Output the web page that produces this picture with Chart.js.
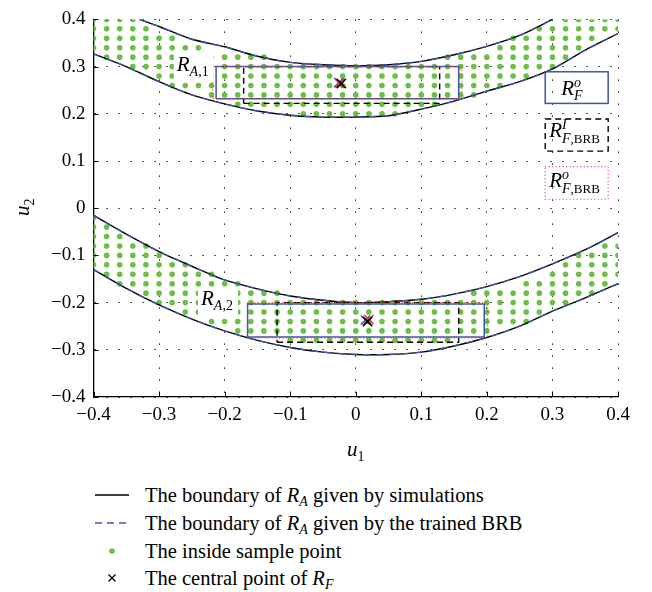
<!DOCTYPE html>
<html>
<head>
<meta charset="utf-8">
<script src="https://cdn.jsdelivr.net/npm/chart.js@4.4.0/dist/chart.umd.min.js"></script>
<style>
  body { margin: 0; background: #fff; }
  #wrap { position: relative; width: 652px; height: 592px; }
  #legend { position: absolute; left: 0; top: 0; font-family: 'Liberation Serif', 'DejaVu Serif', serif; font-size: 20.5px; color: #000; }
  .row { position: absolute; left: 0; width: 652px; height: 28px; }
  .row svg { position: absolute; left: 90px; top: 0; }
  .txt { position: absolute; left: 145px; top: 0; line-height: 28px; white-space: nowrap; }
  .txt sub { font-size: 14px; vertical-align: -4px; }
</style>
</head>
<body>
<div id="wrap">
  <canvas id="chart" width="652" height="470"></canvas>
  <div id="legend">
    <div class="row" style="top:481px">
      <svg width="44" height="28"><line x1="5" y1="14" x2="39" y2="14" stroke="#000" stroke-width="1.3"/></svg>
      <div class="txt">The boundary of <i>R</i><sub><i>A</i></sub> given by simulations</div>
    </div>
    <div class="row" style="top:509px">
      <svg width="44" height="28"><line x1="5" y1="14" x2="39" y2="14" stroke="#3b57a6" stroke-width="1.3" stroke-dasharray="7,5"/></svg>
      <div class="txt">The boundary of <i>R</i><sub><i>A</i></sub> given by the trained BRB</div>
    </div>
    <div class="row" style="top:537px">
      <svg width="44" height="28"><circle cx="22" cy="14" r="2.8" fill="#6cbe45"/></svg>
      <div class="txt">The inside sample point</div>
    </div>
    <div class="row" style="top:564px">
      <svg width="44" height="28"><path d="M18.5 10.5 L25.5 17.5 M25.5 10.5 L18.5 17.5" stroke="#000" stroke-width="1.3"/></svg>
      <div class="txt">The central point of <i>R</i><sub><i>F</i></sub></div>
    </div>
  </div>
</div>
<script>
// axis ticks
const u1Ticks = [-0.4, -0.3, -0.2, -0.1, 0, 0.1, 0.2, 0.3, 0.4];
const u2Ticks = [-0.4, -0.3, -0.2, -0.1, 0, 0.1, 0.2, 0.3, 0.4];
const tickLabels = ['\u22120.4', '\u22120.3', '\u22120.2', '\u22120.1', '0', '0.1', '0.2', '0.3', '0.4'];

// boundaries of R_A
const curveU1 = [-0.40, -0.35, -0.30, -0.25, -0.20, -0.15, -0.10, -0.05, 0.00, 0.05, 0.10, 0.15, 0.20, 0.25, 0.30, 0.35, 0.40];
const topLower = [0.327, 0.300, 0.268, 0.240, 0.221, 0.206, 0.197, 0.193, 0.193, 0.196, 0.210, 0.227, 0.248, 0.268, 0.295, 0.335, 0.370];
const topUpperU1 = [-0.33, -0.30, -0.25, -0.20, -0.15, -0.10, -0.05, 0.00, 0.05, 0.10, 0.15, 0.20, 0.25, 0.30];
const topUpper = [0.400, 0.385, 0.358, 0.342, 0.322, 0.309, 0.304, 0.302, 0.304, 0.311, 0.325, 0.343, 0.366, 0.400];
const bottomUpper = [-0.015, -0.055, -0.092, -0.123, -0.152, -0.171, -0.186, -0.195, -0.200, -0.198, -0.193, -0.182, -0.166, -0.145, -0.118, -0.088, -0.052];
const bottomLower = [-0.130, -0.170, -0.205, -0.235, -0.260, -0.280, -0.295, -0.305, -0.310, -0.310, -0.305, -0.292, -0.274, -0.250, -0.218, -0.190, -0.160];

// inside sample points: each row is u2 and spans of u1 (first, last), dots every 0.02
const sampleStep = 0.02;
const sampleRows = [
  [0.40, [[-0.40, -0.34], [0.32, 0.40]]],
  [0.38, [[-0.40, -0.32], [0.28, 0.40]]],
  [0.36, [[-0.40, -0.28], [0.24, 0.36]]],
  [0.34, [[-0.40, -0.24], [0.22, 0.34]]],
  [0.32, [[-0.38, -0.14], [0.14, 0.32]]],
  [0.30, [[-0.34, 0.30]]],
  [0.28, [[-0.30, 0.26]]],
  [0.26, [[-0.28, 0.22]]],
  [0.24, [[-0.22, 0.18]]],
  [0.22, [[-0.18, 0.12]]],
  [0.20, [[-0.08, 0.06]]],
  [-0.02, [[-0.40, -0.40]]],
  [-0.04, [[-0.40, -0.38]]],
  [-0.06, [[-0.40, -0.36]]],
  [-0.08, [[-0.40, -0.32], [0.38, 0.40]]],
  [-0.10, [[-0.40, -0.30], [0.34, 0.40]]],
  [-0.12, [[-0.40, -0.26], [0.32, 0.40]]],
  [-0.14, [[-0.38, -0.22], [0.30, 0.40]]],
  [-0.16, [[-0.36, -0.18], [0.26, 0.38]]],
  [-0.18, [[-0.32, -0.12], [0.18, 0.36]]],
  [-0.20, [[-0.30, 0.32]]],
  [-0.22, [[-0.26, 0.28]]],
  [-0.24, [[-0.22, 0.26]]],
  [-0.26, [[-0.18, 0.20]]],
  [-0.28, [[-0.10, 0.14]]],
];

// rectangles [u1 min, u1 max, u2 min, u2 max]
const topRectO = [-0.213, 0.157, 0.232, 0.300];
const topRectBrbO = [-0.218, 0.162, 0.232, 0.300];
const topRectBrbI = [-0.171, 0.128, 0.222, 0.300];
const bottomRectO = [-0.165, 0.196, -0.273, -0.203];
const bottomRectBrbO = [-0.165, 0.201, -0.275, -0.200];
const bottomRectBrbI = [-0.120, 0.157, -0.284, -0.200];

// central points of R_F
const centerSim = [[-0.022, 0.264], [0.018, -0.240]];
const centerO = [[-0.026, 0.266], [0.015, -0.237]];
const centerBrb = [[-0.024, 0.265], [0.020, -0.236]];

// key boxes at the right [u1 min, u1 max, u2 min, u2 max]
const keyBoxO = [0.289, 0.385, 0.222, 0.289];
const keyBoxBrbI = [0.289, 0.385, 0.121, 0.189];
const keyBoxBrbO = [0.289, 0.385, 0.019, 0.088];

const GREEN = '#6cbe45';
const BLUE = '#3b57a6';
const RED = '#e83a3a';
const SERIF = '"Liberation Serif", "DejaVu Serif", serif';

const samplePoints = [];
sampleRows.forEach(([u2, spans]) => {
  spans.forEach(([a, b]) => {
    const n = Math.round((b - a) / sampleStep);
    for (let k = 0; k <= n; k++) samplePoints.push({ x: a + k * sampleStep, y: u2 });
  });
});

const toXY = (xs, ys) => xs.map((x, i) => ({ x, y: ys[i] }));
const rectPath = (r) => [
  { x: r[0], y: r[2] }, { x: r[1], y: r[2] }, { x: r[1], y: r[3] }, { x: r[0], y: r[3] }, { x: r[0], y: r[2] },
];

function curve(data, color, dash, order) {
  return {
    data, showLine: true, pointRadius: 0, borderColor: color, borderWidth: 1.4,
    borderDash: dash, tension: 0.25, fill: false, order,
  };
}
function rect(r, color, dash, width) {
  return {
    data: rectPath(r), showLine: true, pointRadius: 0, borderColor: color, borderWidth: width,
    borderDash: dash, tension: 0, fill: false, order: 3,
  };
}
function cross(pts, color) {
  return {
    data: pts.map(([x, y]) => ({ x, y })), showLine: false, pointStyle: 'crossRot',
    pointRadius: 6.5, borderColor: color, borderWidth: 1.6, order: 1,
  };
}

function mathText(ctx, x, y, parts) {
  let cx = x;
  parts.forEach((p) => {
    ctx.font = `${p.i ? 'italic ' : ''}${p.s}px ${SERIF}`;
    const px = p.at !== undefined ? p.at : cx;
    ctx.fillText(p.t, px, y + (p.dy || 0));
    const w = ctx.measureText(p.t).width;
    if (!p.keep) cx = px + w;
  });
}

const overlay = {
  id: 'overlay',
  afterDatasetsDraw(chart) {
    const { ctx, scales: { x, y } } = chart;
    ctx.save();
    ctx.fillStyle = '#000';
    ctx.textBaseline = 'alphabetic';
    // region labels with white backing
    const lab = (u1, u2, sub) => {
      const px = x.getPixelForValue(u1), py = y.getPixelForValue(u2);
      ctx.fillStyle = '#fff';
      ctx.fillRect(px - 3, py - 17, 40, 27);
      ctx.fillStyle = '#000';
      mathText(ctx, px, py, [
        { t: 'R', s: 21, i: true },
        { t: 'A', s: 14, i: true, dy: 5 },
        { t: sub, s: 14, dy: 5 },
      ]);
    };
    lab(-0.273, 0.291, ',1');
    lab(-0.236, -0.206, ',2');

    // key boxes
    const box = (r, color, dash, w) => {
      const x0 = x.getPixelForValue(r[0]), x1 = x.getPixelForValue(r[1]);
      const y0 = y.getPixelForValue(r[3]), y1 = y.getPixelForValue(r[2]);
      ctx.save();
      ctx.strokeStyle = color; ctx.lineWidth = w; ctx.setLineDash(dash);
      ctx.strokeRect(x0, y0, x1 - x0, y1 - y0);
      ctx.restore();
      return [x0, y0];
    };
    let p = box(keyBoxO, BLUE, [], 1.5);
    mathText(ctx, p[0] + 16, p[1] + 23, [
      { t: 'R', s: 21, i: true },
      { t: 'o', s: 14, i: true, dy: -8, keep: true },
      { t: 'F', s: 14, i: true, dy: 5 },
    ]);
    p = box(keyBoxBrbI, '#000', [6, 4], 1.4);
    mathText(ctx, p[0] + 4, p[1] + 18, [
      { t: 'R', s: 21, i: true },
      { t: 'I', s: 14, i: true, dy: -8, keep: true },
      { t: 'F', s: 14, i: true, dy: 6 },
      { t: ',BRB', s: 13, dy: 6 },
    ]);
    p = box(keyBoxBrbO, RED, [1, 2.5], 1.2);
    mathText(ctx, p[0] + 4, p[1] + 20, [
      { t: 'R', s: 21, i: true },
      { t: 'o', s: 14, i: true, dy: -8, keep: true },
      { t: 'F', s: 14, i: true, dy: 6 },
      { t: ',BRB', s: 13, dy: 6 },
    ]);
    ctx.restore();
  },
  afterDraw(chart) {
    const { ctx, chartArea: a, scales: { x, y } } = chart;
    ctx.save();
    // inward tick marks
    ctx.strokeStyle = '#000'; ctx.lineWidth = 1;
    ctx.beginPath();
    u1Ticks.forEach((v) => { const px = Math.round(x.getPixelForValue(v)) + 0.5; ctx.moveTo(px, a.bottom); ctx.lineTo(px, a.bottom - 5); });
    u2Ticks.forEach((v) => { const py = Math.round(y.getPixelForValue(v)) + 0.5; ctx.moveTo(a.left, py); ctx.lineTo(a.left + 5, py); });
    ctx.stroke();
    // axis titles
    ctx.fillStyle = '#000';
    mathText(ctx, 347, 456, [{ t: 'u', s: 21, i: true }, { t: '1', s: 14, dy: 5 }]);
    ctx.translate(29, 216);
    ctx.rotate(-Math.PI / 2);
    mathText(ctx, 0, 0, [{ t: 'u', s: 21, i: true }, { t: '2', s: 14, dy: 5 }]);
    ctx.restore();
  },
};

const tickFont = { family: SERIF, size: 19 };

new Chart(document.getElementById('chart'), {
  type: 'scatter',
  data: {
    datasets: [
      {
        data: samplePoints, pointRadius: 2.8, pointHoverRadius: 2.8,
        backgroundColor: GREEN, borderWidth: 0, order: 10,
      },
      curve(toXY(topUpperU1, topUpper), '#000', [], 6),
      curve(toXY(curveU1, topLower), '#000', [], 6),
      curve(toXY(curveU1, bottomUpper), '#000', [], 6),
      curve(toXY(curveU1, bottomLower), '#000', [], 6),
      curve(toXY(topUpperU1, topUpper), BLUE, [7, 6], 5),
      curve(toXY(curveU1, topLower), BLUE, [7, 6], 5),
      curve(toXY(curveU1, bottomUpper), BLUE, [7, 6], 5),
      curve(toXY(curveU1, bottomLower), BLUE, [7, 6], 5),
      rect(topRectBrbO, RED, [1, 2.5], 1.2),
      rect(bottomRectBrbO, RED, [1, 2.5], 1.2),
      rect(topRectO, BLUE, [], 1.5),
      rect(bottomRectO, BLUE, [], 1.5),
      rect(topRectBrbI, '#000', [6, 4], 1.4),
      rect(bottomRectBrbI, '#000', [6, 4], 1.4),
      cross(centerSim, '#000'),
      cross(centerBrb, RED),
      cross(centerO, BLUE),
    ],
  },
  options: {
    responsive: false,
    animation: false,
    devicePixelRatio: 1,
    layout: { padding: { top: 14, right: 34, bottom: 0, left: 0 } },
    plugins: { legend: { display: false }, tooltip: { enabled: false } },
    scales: {
      x: {
        type: 'linear', min: -0.4, max: 0.4,
        afterBuildTicks: (s) => { s.ticks = u1Ticks.map((v) => ({ value: v })); },
        afterFit: (s) => { s.height = 73; },
        ticks: {
          autoSkip: false, maxRotation: 0, padding: 7, color: '#000', font: tickFont,
          callback: (v, i) => tickLabels[i],
        },
        grid: { color: '#222', lineWidth: 1, drawTicks: false },
        border: { display: true, color: '#000', width: 1.3, dash: [1.5, 10.5] },
      },
      y: {
        type: 'linear', min: -0.4, max: 0.4,
        afterBuildTicks: (s) => { s.ticks = u2Ticks.map((v) => ({ value: v })); },
        afterFit: (s) => { s.width = 93.5; },
        ticks: {
          autoSkip: false, padding: 8, color: '#000', font: tickFont,
          callback: (v, i) => tickLabels[i],
        },
        grid: { color: '#222', lineWidth: 1, drawTicks: false },
        border: { display: true, color: '#000', width: 1.3, dash: [1.5, 10.5] },
      },
    },
  },
  plugins: [overlay],
});
</script>
</body>
</html>
